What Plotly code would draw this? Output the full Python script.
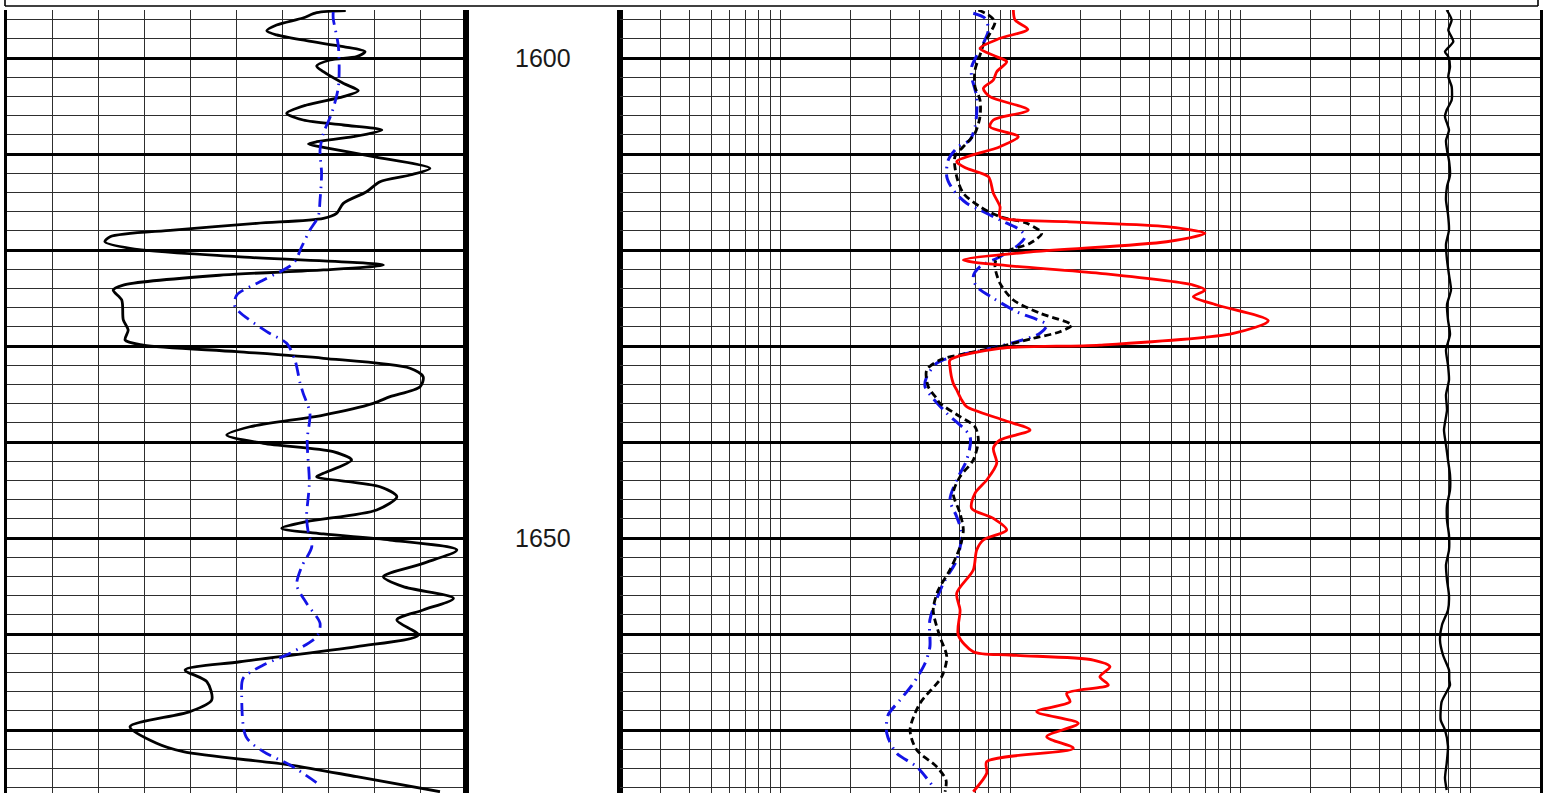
import plotly.graph_objects as go
from plotly.subplots import make_subplots
import math

# ---------------- data ----------------
# Track 1 (linear, 0-150)
gr_depth = [1595.07,1595.28,1595.83,1596.56,1597.16,1597.60,1598.20,1598.82,1599.34,1599.86,1600.21,1600.83,1601.43,1602.64,1603.41,1604.03,1604.90,1605.76,1606.46,1606.98,1607.50,1608.20,1608.72,1608.96,1609.30,1610.28,1611.49,1612.19,1612.89,1613.93,1615.14,1616.18,1616.70,1617.22,1617.92,1618.61,1619.14,1619.82,1620.70,1621.56,1622.08,1622.60,1623.65,1624.17,1625.21,1627.29,1628.33,1629.38,1629.90,1630.59,1631.28,1632.32,1633.20,1634.24,1635.28,1635.97,1637.19,1638.41,1639.27,1640.14,1641.01,1641.88,1643.26,1643.61,1644.66,1645.70,1647.08,1648.30,1648.99,1649.58,1650.21,1651.25,1652.64,1654.03,1655.07,1656.28,1657.50,1658.54,1660.10,1661.32,1662.89,1663.75,1664.97,1666.88,1668.09,1669.66,1671.39,1672.26,1673.65,1674.86,1676.43]
gr_vals = [110.7,101.2,96.7,88.1,84.9,88.1,97.9,109.9,117.0,114.3,105.6,101.2,103.4,109.9,114.8,109.9,97.9,91.4,96.8,109.9,122.5,113.2,101.2,98.5,103.4,119.7,138.2,131.7,121.9,117.5,109.9,107.7,103.4,81.6,54.3,33.7,32.0,40.2,75.1,123.0,103.4,70.7,38.0,34.7,37.5,38.0,39.6,38.6,44.5,75.1,103.4,131.7,136.0,135.0,125.2,119.7,103.4,79.4,71.8,83.8,106.6,112.6,103.4,101.2,121.9,127.4,120.8,97.9,89.8,103.4,125.2,147.0,136.0,123.0,129.5,145.9,136.0,127.4,134.4,114.3,76.1,58.2,65.3,66.9,59.8,40.2,48.9,57.6,92.5,114.3,141.5]

sp_depth = [1595.21,1595.86,1598.82,1602.99,1605.76,1607.84,1609.58,1612.01,1614.79,1616.53,1617.92,1619.66,1621.39,1623.13,1624.69,1625.91,1628.51,1629.72,1631.46,1633.89,1634.93,1637.01,1639.79,1644.30,1647.78,1649.51,1650.91,1652.99,1654.90,1656.80,1658.89,1660.28,1662.01,1663.23,1664.61,1666.53,1670.70,1672.26,1673.65,1675.73]
sp_vals = [106.6,106.6,108.3,108.3,106.1,103.4,102.3,102.8,102.3,101.7,99.0,96.3,93.6,83.8,75.1,74.5,84.9,91.4,94.1,95.8,96.8,99.0,98.1,98.8,97.9,98.5,99.6,96.3,94.7,97.9,102.3,101.2,92.5,83.8,77.2,76.7,78.1,83.8,92.5,102.3]

# Track 3 (logarithmic, 2-20000)
rd_depth = [1595.00,1596.04,1597.01,1597.95,1598.99,1599.86,1600.39,1601.43,1602.29,1603.16,1604.03,1605.42,1606.46,1607.16,1608.20,1609.24,1610.80,1611.49,1612.36,1614.09,1615.49,1616.53,1617.05,1617.57,1618.26,1619.14,1620.18,1621.04,1621.56,1622.43,1623.65,1624.17,1624.86,1625.73,1627.36,1628.68,1629.90,1630.24,1631.46,1632.16,1633.89,1634.58,1635.63,1636.32,1637.71,1638.75,1639.79,1640.66,1642.22,1643.96,1645.34,1646.91,1647.95,1649.17,1650.21,1651.25,1653.33,1655.76,1657.50,1660.10,1661.84,1662.19,1662.71,1663.41,1664.45,1665.31,1666.18,1667.05,1668.09,1669.30,1670.70,1671.91,1673.30,1674.51,1676.43]
rd_vals = [102.6,104.4,118.5,89.8,73.5,86.9,96.0,86.9,84.0,76.0,81.2,119.2,84.0,81.2,107.8,89.8,58.2,64.3,79.9,84.0,89.8,89.8,175,476,699,476,125.3,62.2,89.8,244,622,699,622,786,1317,928,244,89.8,54.4,54.4,56.2,58.2,61.2,64.3,92.8,121.3,89.8,84.0,86.9,78.6,69.9,67.6,84.0,96.0,76.0,71.1,68.7,58.2,60.2,59.1,68.7,99.3,228.6,270,244,265.5,175,181,129.7,196.6,143.3,187,78.6,78.6,68.7]

rm_depth = [1595.00,1595.52,1596.22,1597.43,1598.65,1599.69,1601.25,1602.99,1604.38,1606.11,1607.84,1608.89,1610.28,1612.36,1614.09,1615.49,1616.53,1617.22,1618.26,1619.30,1620.00,1620.86,1621.74,1623.47,1625.21,1626.59,1627.81,1628.51,1629.20,1630.07,1630.76,1631.46,1632.50,1634.24,1635.45,1635.97,1637.36,1638.41,1639.79,1641.88,1643.61,1645.34,1647.43,1649.17,1650.91,1653.33,1655.42,1657.50,1660.28,1662.36,1664.45,1667.22,1670.00,1672.08,1673.82,1675.21,1676.43]
rm_vals = [72.3,79.9,85.4,81.2,76.0,73.5,69.9,69.9,73.5,73.5,69.9,64.3,57.2,58.2,62.2,73.5,89.8,117.3,136.3,121.3,99.3,86.9,85.4,89.8,102.6,134.0,184.0,163.7,125.3,89.8,64.3,49.2,43.1,43.8,47.6,49.2,60.2,69.9,72.3,68.7,60.2,56.2,60.2,62.2,60.2,54.4,48.4,46.0,49.2,52.7,50.1,40.3,36.5,39.0,47.6,52.3,51.8]

rs_depth = [1595.34,1595.86,1597.08,1598.47,1600.91,1601.95,1604.03,1605.76,1607.16,1608.54,1609.24,1610.63,1612.36,1613.75,1615.14,1615.83,1616.88,1617.92,1618.61,1619.48,1620.70,1621.74,1622.78,1623.82,1625.03,1626.43,1627.81,1628.68,1629.55,1630.42,1631.11,1631.80,1633.20,1634.24,1635.28,1637.01,1639.45,1641.88,1643.96,1646.04,1647.78,1649.51,1652.29,1654.72,1658.54,1661.32,1663.05,1665.14,1666.88,1668.44,1670.34,1672.41,1673.82,1675.91]
rs_vals = [68.7,77.3,79.9,76.0,67.6,67.6,71.1,71.1,69.9,66.5,59.1,53.5,52.7,56.2,64.3,73.5,89.8,109.7,115.3,107.8,89.8,73.5,68.7,71.1,84.0,106.1,143.3,134.0,106.1,76.0,56.2,47.6,43.1,42.4,45.3,52.7,66.5,64.3,58.2,54.4,58.2,61.2,58.2,50.9,44.5,44.5,42.4,37.7,33.0,29.3,28.9,31.9,39.0,46.0]

rx_depth = [1595.00,1596.04,1597.08,1598.30,1599.34,1599.86,1600.90,1601.95,1602.99,1604.38,1605.42,1606.11,1607.50,1608.60,1609.58,1610.70,1612.19,1613.40,1614.79,1616.30,1617.92,1619.40,1621.04,1622.60,1624.17,1625.70,1627.29,1628.80,1630.42,1632.00,1633.54,1635.10,1636.67,1638.75,1640.30,1641.88,1643.40,1645.00,1646.60,1648.13,1649.70,1651.25,1652.80,1654.38,1656.00,1657.50,1659.06,1660.63,1662.19,1663.75,1664.79,1665.31,1667.05,1668.96,1670.00,1671.70,1673.44,1675.00,1676.25]
rx_vals = [7859,8262,7986,8396,7726,7986,8123,7986,8262,8262,7859,7726,8042,7804,7883,8042,8123,7883,7804,7962,8042,7804,7883,8042,8205,7883,7962,8123,7804,7962,8042,7804,7883,7649,7804,7962,8123,8123,7883,7883,8042,8042,7804,7883,8042,7962,7497,7348,7573,8042,8066,8123,7475,7400,7726,7962,7859,7726,7859]

depth_labels = [1600, 1650]
depth_top, depth_bottom = 1595.0, 1676.5625
track1_range = [0, 150]
track3_range = [2, 20000]

# ---------------- figure ----------------
W, H = 1548, 793
ML, MR, MT, MB = 7, 8, 10, 0
fig = make_subplots(rows=1, cols=3, shared_yaxes=True, horizontal_spacing=0,
                    column_widths=[459, 154, 920])

BLUE = '#1414e6'
DASHDOT = '13px,6px,1.5px,6px'
fig.add_trace(go.Scatter(x=gr_vals, y=gr_depth, mode='lines', line=dict(color='black', width=2.8, shape='spline', smoothing=0.8), showlegend=False), row=1, col=1)
fig.add_trace(go.Scatter(x=sp_vals, y=sp_depth, mode='lines', line=dict(color=BLUE, width=2.8, dash=DASHDOT, shape='spline', smoothing=0.8), showlegend=False), row=1, col=1)

fig.add_trace(go.Scatter(x=rx_vals, y=rx_depth, mode='lines', line=dict(color='black', width=2.4, shape='spline', smoothing=0.6), showlegend=False), row=1, col=3)
fig.add_trace(go.Scatter(x=rs_vals, y=rs_depth, mode='lines', line=dict(color=BLUE, width=3, dash=DASHDOT, shape='spline', smoothing=0.8), showlegend=False), row=1, col=3)
fig.add_trace(go.Scatter(x=rm_vals, y=rm_depth, mode='lines', line=dict(color='black', width=2.8, dash='7px,4px', shape='spline', smoothing=0.8), showlegend=False), row=1, col=3)
fig.add_trace(go.Scatter(x=rd_vals, y=rd_depth, mode='lines', line=dict(color='#ff0000', width=2.8, shape='spline', smoothing=0.8), showlegend=False), row=1, col=3)

# depth labels in the depth track
for d in depth_labels:
    fig.add_annotation(x=0.5, y=d, xref='x2', yref='y2', text=str(d), showarrow=False,
                       xanchor='center', yanchor='middle',
                       font=dict(family='Liberation Sans, Arial', size=25, color='#1a1a1a'))

GRID = '#2e2e2e'
for i in (1, 2, 3):
    show = i != 2
    fig.update_yaxes(row=1, col=i, range=[depth_bottom, depth_top], showticklabels=False, ticks='',
                     showgrid=show, dtick=10, tick0=1600, gridcolor='black', gridwidth=2.6,
                     minor=dict(showgrid=show, dtick=2, tick0=1600, gridcolor=GRID, gridwidth=1),
                     showline=True, linecolor='black', linewidth=3, mirror=True, zeroline=False)

fig.update_xaxes(row=1, col=1, range=track1_range, dtick=15, tick0=0, showgrid=True, gridcolor=GRID, gridwidth=1,
                 showticklabels=False, ticks='', zeroline=False, showline=False)
fig.update_xaxes(row=1, col=2, range=[0, 1], showgrid=False, showticklabels=False, ticks='', zeroline=False, showline=False)
fig.update_xaxes(row=1, col=3, type='log', range=[math.log10(track3_range[0]), math.log10(track3_range[1])], dtick='D1',
                 showgrid=True, gridcolor=GRID, gridwidth=1, showticklabels=False, ticks='', zeroline=False, showline=False)

# header frame above the tracks
pw = W - ML - MR
ph = H - MT - MB
def px(x):
    return (x - ML) / pw
def py(y):
    return 1 + (MT - y) / ph
frame = dict(color='black', width=1.6)
fig.add_shape(type='line', xref='paper', yref='paper', x0=px(5), x1=px(1538), y0=py(6), y1=py(6), line=frame)
fig.add_shape(type='line', xref='paper', yref='paper', x0=px(5), x1=px(5), y0=py(6), y1=py(-2), line=frame)
fig.add_shape(type='line', xref='paper', yref='paper', x0=px(1538), x1=px(1538), y0=py(6), y1=py(-2), line=frame)

fig.update_layout(width=W, height=H, margin=dict(l=ML, r=MR, t=MT, b=MB),
                  plot_bgcolor='white', paper_bgcolor='white', showlegend=False)

fig.write_html("out.html", config={'displayModeBar': False},
               post_script="document.body.style.margin='0';document.body.style.overflow='hidden';")
